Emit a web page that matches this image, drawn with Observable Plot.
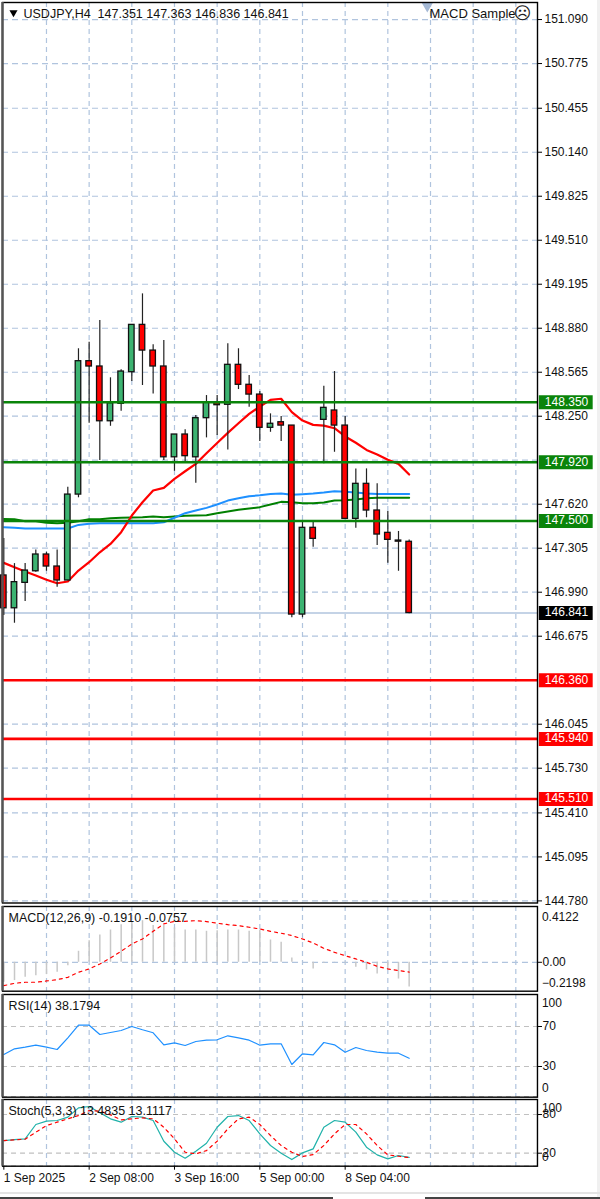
<!DOCTYPE html>
<html><head><meta charset="utf-8">
<script src="https://cdn.jsdelivr.net/npm/d3@7"></script>
<script src="https://cdn.jsdelivr.net/npm/@observablehq/plot@0.6"></script>
<style>
html,body{margin:0;padding:0;background:#fff;width:600px;height:1199px;overflow:hidden;font-family:"Liberation Sans",sans-serif}
#chart{position:relative;width:600px;height:1199px}
#chart svg{position:absolute;left:0;overflow:visible;background:transparent}
.deco{position:absolute}
</style></head><body><div id="chart"></div>
<script>
const open =[147.110,146.875,147.057,147.140,147.260,147.174,147.074,147.689,148.644,148.606,148.214,148.339,148.565,148.904,148.720,148.606,147.956,148.119,147.956,148.236,148.343,148.332,148.618,148.475,148.405,148.167,148.207,148.183,146.830,147.451,148.224,148.291,148.183,147.515,147.766,147.575,147.415,147.360,147.351];
const close=[146.875,147.062,147.145,147.260,147.174,147.074,147.689,148.644,148.606,148.214,148.343,148.570,148.904,148.720,148.606,147.956,148.119,147.964,148.236,148.350,148.329,148.618,148.475,148.405,148.167,148.196,148.183,146.830,147.451,147.372,148.310,148.183,147.515,147.766,147.575,147.403,147.365,147.352,146.841];
const high =[147.374,147.195,147.195,147.293,147.276,147.293,147.742,148.733,148.780,148.935,148.525,148.582,148.904,149.126,148.761,148.792,148.119,148.153,148.255,148.398,148.398,148.768,148.733,148.541,148.427,148.267,148.248,148.183,147.498,147.498,148.465,148.570,148.248,147.873,147.873,147.766,147.568,147.425,147.363];
const low  =[146.823,146.768,146.923,147.133,147.140,147.026,147.074,147.666,148.200,147.933,148.178,148.286,148.498,148.470,148.410,147.933,147.856,147.921,147.770,148.095,148.112,148.009,148.441,148.314,148.069,148.135,148.069,146.807,146.807,147.312,147.909,147.992,147.515,147.448,147.523,147.324,147.198,147.140,146.836];
const maRed=[147.200,147.169,147.138,147.110,147.079,147.054,147.067,147.145,147.205,147.276,147.336,147.420,147.539,147.634,147.718,147.737,147.802,147.856,147.909,147.985,148.058,148.131,148.200,148.267,148.319,148.367,148.375,148.279,148.219,148.188,148.183,148.164,148.105,148.060,148.009,147.976,147.938,147.909,147.833];
const maBlue=[147.455,147.451,147.446,147.446,147.446,147.446,147.446,147.472,147.480,147.484,147.484,147.484,147.484,147.484,147.484,147.491,147.523,147.556,147.575,147.594,147.618,147.646,147.663,147.677,147.684,147.694,147.697,147.687,147.692,147.697,147.704,147.713,147.709,147.704,147.697,147.694,147.694,147.694,147.694];
const maGreen=[147.515,147.512,147.498,147.498,147.487,147.484,147.487,147.498,147.512,147.513,147.520,147.523,147.525,147.527,147.532,147.527,147.532,147.537,147.539,147.541,147.556,147.568,147.580,147.589,147.599,147.618,147.637,147.634,147.627,147.627,147.632,147.646,147.649,147.654,147.663,147.666,147.666,147.666,147.666];
const macdHist=[-0.154,-0.141,-0.116,-0.103,-0.095,-0.077,-0.026,0.085,0.167,0.211,0.249,0.290,0.308,0.321,0.283,0.283,0.265,0.249,0.249,0.239,0.244,0.249,0.249,0.239,0.249,0.172,0.154,0.033,0.002,-0.051,-0.008,-0.003,-0.005,-0.039,-0.059,-0.090,-0.064,-0.129,-0.1910];
const macdSignal=[-0.180,-0.162,-0.154,-0.154,-0.144,-0.134,-0.116,-0.077,-0.051,-0.013,0.033,0.085,0.141,0.180,0.239,0.296,0.316,0.316,0.321,0.314,0.301,0.290,0.283,0.270,0.257,0.239,0.224,0.206,0.180,0.149,0.108,0.077,0.051,0.026,0.000,-0.031,-0.051,-0.064,-0.0757];
const rsi=[42.0,47.7,49.3,51.3,49.3,47.0,58.7,71.3,71.3,62.0,64.0,66.0,70.0,66.7,63.7,51.7,53.7,51.0,55.0,56.3,56.7,60.7,58.7,56.3,51.3,52.7,52.7,32.0,42.7,41.7,54.0,51.7,44.3,49.0,46.0,44.3,43.3,43.3,38.18];
const stochK=[39.6,41.2,42.2,64.5,69.7,70.7,75.9,90.3,92.4,82.6,73.3,68.1,76.9,75.9,70.7,38.6,21.5,12.2,23.1,35.5,60.3,76.9,78.4,70.7,50.0,31.9,20.0,10.2,20.5,26.7,60.3,70.7,68.1,52.6,29.3,17.4,11.2,16.4,13.48];
const stochD=[39.6,40.7,41.7,52.6,62.9,68.1,73.3,78.4,86.2,85.2,79.5,71.7,73.3,74.8,73.3,60.3,42.2,21.5,19.0,24.1,38.6,57.8,73.3,75.9,64.5,47.4,31.9,21.5,14.8,17.9,31.9,50.0,64.5,64.5,50.0,31.9,17.4,15.3,13.11];
const priceGrid=[151.090,150.775,150.455,150.140,149.825,149.510,149.195,148.880,148.565,148.250,147.935,147.620,147.305,146.990,146.675,146.360,146.045,145.730,145.410,145.095,144.780];
const priceLabels=[151.090,150.775,150.455,150.140,149.825,149.510,149.195,148.880,148.565,148.250,147.620,147.305,146.990,146.675,146.045,145.730,145.410,145.095,144.780];
const levelsGreen=[148.350,147.920,147.500];
const levelsRed=[146.360,145.940,145.510];
const lastPrice=146.841;
const gridIdx=[4,8,12,16,20,24,28,32,36,40,44,48];
const timeIdx=[0,8,16,24,32];
const timeLabels=["1 Sep 2025","2 Sep 08:00","3 Sep 16:00","5 Sep 00:00","8 Sep 04:00"];
const headerLeft="USDJPY,H4\u00A0\u00A0147.351 147.363 146.836 146.841";
const headerRight="MACD Sample";

const FONT='"Liberation Sans",sans-serif', FS=12, FSL=12.5;
const GRID="#b0c4de", TXT="#111", HGRAY="#c0c0c0";
const indices=open.map((_,i)=>i);
const candles=indices.map(i=>({i,open:open[i],close:close[i],high:high[i],low:low[i]}));
const series=a=>a.map((v,i)=>({i,v}));
const xDomain=[-0.122,50.03];
const num=d3.format(".3f");
const chart=document.getElementById("chart");

function panel(top,bottom,yDomain,marks,below=0){
  const p=Plot.plot({
    width:600,height:bottom-top+2+below,
    marginTop:1,marginBottom:1+below,marginLeft:2,marginRight:63,
    style:{fontFamily:FONT,fontSize:FS+"px",background:"transparent",color:TXT},
    x:{domain:xDomain,axis:null},
    y:{domain:yDomain,axis:null},
    marks
  });
  p.style.top=(top-1)+"px";
  chart.appendChild(p);
}
const gridV=Plot.gridX(gridIdx,{stroke:GRID,strokeOpacity:1,strokeDasharray:"5,4",strokeWidth:1.2});
const edge=()=>[Plot.frame({stroke:"#000",strokeWidth:1.4}),Plot.ruleX([xDomain[0]],{stroke:"#555",strokeWidth:2.4})];
const rTicks=(ticks,fmt,pad=1)=>Plot.axisY(ticks,{anchor:"right",tickSize:4,tickPadding:pad,tickFormat:fmt,label:null,fill:TXT,stroke:"#000",fontSize:FS});
const labelAt=(vals,fmt,dy)=>Plot.text(vals,{x:()=>50.45,y:d=>d,text:fmt,textAnchor:"start",dy,fill:TXT,fontSize:FS});
const box=(vals,fill)=>[
  Plot.ruleY(vals,{y:d=>d,x1:()=>50.2,x2:()=>55.25,stroke:fill,strokeWidth:14}),
  Plot.text(vals,{x:()=>50.72,y:d=>d,dy:-0.5,text:d=>num(d),textAnchor:"start",fill:"#fff",fontSize:FS})
];

// main
panel(2,902.5,[144.765,151.212],[
  gridV,
  Plot.gridY(priceGrid,{stroke:GRID,strokeOpacity:1,strokeDasharray:"6,4",strokeWidth:1.2}),
  Plot.ruleY([lastPrice],{stroke:"#b0c4de",strokeWidth:1.5}),
  Plot.line(series(maGreen),{x:"i",y:"v",stroke:"#008000",strokeWidth:2}),
  Plot.line(series(maBlue),{x:"i",y:"v",stroke:"#1e90ff",strokeWidth:2}),
  Plot.line(series(maRed),{x:"i",y:"v",stroke:"#ff0000",strokeWidth:2.2}),
  Plot.ruleX(candles,{x:"i",y1:"low",y2:"high",stroke:"#222",strokeWidth:1.2}),
  Plot.rect(candles,{x1:d=>d.i-0.26,x2:d=>d.i+0.26,y1:"open",y2:"close",
    fill:d=>d.close>d.open?"#3cb371":"#ff0000",stroke:"#111",strokeWidth:1.3}),
  Plot.ruleY(levelsGreen,{stroke:"#0a840a",strokeWidth:2.6}),
  Plot.ruleY(levelsRed,{stroke:"#ff0000",strokeWidth:2.6}),
  rTicks(priceLabels,d=>num(d),3),
  ...box(levelsGreen,"#0a840a"),
  ...box(levelsRed,"#ff0000"),
  ...box([lastPrice],"#000"),
  Plot.dot([0],{frameAnchor:"top-left",dx:11,dy:10,symbol:"triangle",rotate:180,r:3,fill:"#000",stroke:"none"}),
  Plot.text([headerLeft],{frameAnchor:"top-left",lineAnchor:"middle",dx:21,dy:11,fontSize:FSL,fill:TXT}),
  Plot.text([headerRight],{frameAnchor:"top-right",lineAnchor:"middle",dx:-22,dy:11,fontSize:13,fill:TXT}),
  Plot.text(["\u2639"],{frameAnchor:"top-right",lineAnchor:"middle",dx:-6,dy:11,fontSize:17,fontFamily:"DejaVu Sans",fill:"#222"}),
  Plot.dot([0],{x:()=>39.7,frameAnchor:"top",dy:3,symbol:"triangle",rotate:180,r:4.5,fill:"#a4b8d4",stroke:"none"}),
  ...edge()
]);

// MACD
panel(906,990.7,[-0.2228,0.4302],[
  gridV,
  Plot.ruleY([0],{stroke:GRID,strokeDasharray:"6,4",strokeWidth:1.2}),
  Plot.ruleX(series(macdHist),{x:"i",y1:()=>0,y2:"v",stroke:"#c8c8c8",strokeWidth:1.5}),
  Plot.line(series(macdSignal),{x:"i",y:"v",stroke:"#ff0000",strokeWidth:1.2,strokeDasharray:"3,4"}),
  rTicks([0],d3.format(".2f")),
  labelAt([0.4122],d=>d3.format(".4f")(d),8),
  labelAt([-0.2198],d=>d3.format(".4f")(d),-8),
  Plot.text(["MACD(12,26,9) -0.1910 -0.0757"],{frameAnchor:"top-left",lineAnchor:"middle",dx:6,dy:12,fontSize:FSL,fill:TXT}),
  ...edge()
]);

// RSI
panel(994,1096.7,[-0.7,102],[
  gridV,
  Plot.ruleY([70,30,0],{stroke:HGRAY,strokeDasharray:"5,4",strokeWidth:1.2}),
  Plot.line(series(rsi),{x:"i",y:"v",stroke:"#1e90ff",strokeWidth:1.2}),
  rTicks([70,30],d=>d),
  labelAt([100],d=>d,7),
  labelAt([0],d=>d,-8),
  Plot.text(["RSI(14) 38.1794"],{frameAnchor:"top-left",lineAnchor:"middle",dx:6,dy:12,fontSize:FSL,fill:TXT}),
  ...edge()
]);

// Stochastic with the time axis below
panel(1099,1165.7,[-0.15,103.3],[
  gridV,
  Plot.ruleY([80,20,0],{stroke:HGRAY,strokeDasharray:"5,4",strokeWidth:1.2}),
  Plot.line(series(stochK),{x:"i",y:"v",stroke:"#20b2aa",strokeWidth:1.2}),
  Plot.line(series(stochD),{x:"i",y:"v",stroke:"#ff0000",strokeWidth:1.2,strokeDasharray:"3,4"}),
  rTicks([80,20],d=>d),
  labelAt([100],d=>d,7),
  labelAt([0],d=>d,-9),
  Plot.text(["Stoch(5,3,3) 13.4835 13.1117"],{frameAnchor:"top-left",lineAnchor:"middle",dx:6,dy:12,fontSize:FSL,fill:TXT}),
  Plot.axisX(timeIdx,{anchor:"bottom",tickSize:4,tickPadding:3,label:null,
    tickFormat:i=>timeLabels[timeIdx.indexOf(i)],textAnchor:"start",fill:TXT,stroke:"#000",fontSize:FS}),
  ...edge()
],26);

// window chrome at the edges
[[597,0,3,1199,"#f0f0f0"],[0,1192,600,2,"#e4e4e4"],[0,1197,333,2,"#444"],[425,1197,175,2,"#444"]].forEach(([l,t,w,h,c])=>{
  const d=document.createElement("div");d.className="deco";
  d.style.cssText=`left:${l}px;top:${t}px;width:${w}px;height:${h}px;background:${c}`;
  chart.appendChild(d);
});
</script></body></html>
